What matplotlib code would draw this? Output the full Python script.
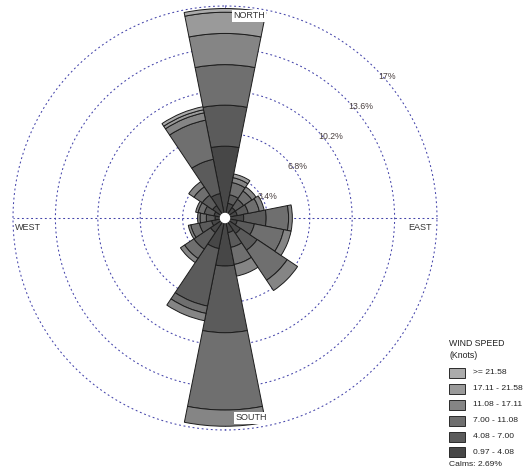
import numpy as np
import matplotlib
matplotlib.use("Agg")
import matplotlib.pyplot as plt
from matplotlib.patches import Rectangle
from matplotlib import transforms

plt.rcParams['font.family'] = ['Liberation Sans', 'DejaVu Sans']

directions = ['N', 'NNE', 'NE', 'ENE', 'E', 'ESE', 'SE', 'SSE',
              'S', 'SSW', 'SW', 'WSW', 'W', 'WNW', 'NW', 'NNW']
# frequency (%) per speed class, per direction
c_097_408 = [5.76, 1.2, 1.0, 1.0, 1.5, 1.0, 1.5, 1.2, 3.85, 2.5, 1.4, 1.1, 0.8, 0.9, 1.2, 2.0]
c_408_700 = [3.29, 0.7, 0.8, 0.9, 1.8, 1.4, 1.6, 1.2, 5.35, 4.7, 1.6, 1.0, 0.7, 0.8, 1.0, 2.8]
c_700_1108 = [3.25, 1.0, 0.8, 0.9, 1.8, 2.4, 2.9, 1.4, 6.2, 0.6, 0.9, 0.7, 0.5, 0.5, 0.8, 3.2]
c_1108_1711 = [2.50, 0.4, 0.4, 0.4, 0.3, 0.6, 1.0, 0.95, 1.3, 0.6, 0.4, 0.2, 0.2, 0.2, 0.5, 0.6]
c_1711_2158 = [1.70, 0.3, 0.0, 0.0, 0.0, 0.0, 0.0, 0.0, 0.0, 0.0, 0.0, 0.0, 0.0, 0.0, 0.0, 0.25]
c_ge_2158 = [0.30, 0.0, 0.0, 0.0, 0.0, 0.0, 0.0, 0.0, 0.0, 0.0, 0.0, 0.0, 0.0, 0.0, 0.0, 0.25]

class_labels = ['0.97 - 4.08', '4.08 - 7.00', '7.00 - 11.08',
                '11.08 - 17.11', '17.11 - 21.58', '>= 21.58']
class_colors = ['#474747', '#5b5b5b', '#6f6f6f', '#858585', '#9a9a9a', '#ababab']
ring_values = [3.4, 6.8, 10.2, 13.6, 17.0]
ring_labels = ['3.4%', '6.8%', '10.2%', '13.6%', '17%']
calms = 2.69

W, H = 523, 468
fig = plt.figure(figsize=(W / 100, H / 100), dpi=100)
fig.patch.set_facecolor('white')

cx, cy, R = 225, 218, 212
ax = fig.add_axes([(cx - R) / W, (H - cy - R) / H, 2 * R / W, 2 * R / H],
                  projection='polar')
ax.set_theta_zero_location('N')
ax.set_theta_direction(-1)
ax.set_ylim(0, 17)
ax.grid(False)
ax.set_xticks([])
ax.set_yticks([])
ax.spines['polar'].set_visible(False)
ax.patch.set_alpha(0)

ring_color = '#4444aa'
ring_ls = (0, (1.8, 2.6))
tt = np.linspace(0, 2 * np.pi, 400)
for r in ring_values:
    ax.plot(tt, [r] * len(tt), color=ring_color, lw=0.75, ls=ring_ls,
            clip_on=False, zorder=1)
for a in [0, np.pi / 2, np.pi, 3 * np.pi / 2]:
    ax.plot([a, a], [0, 17], color=ring_color, lw=0.75, ls=ring_ls,
            clip_on=False, zorder=1)

n = len(directions)
theta = np.arange(n) * 2 * np.pi / n
width = 2 * np.pi / n
classes = [c_097_408, c_408_700, c_700_1108, c_1108_1711, c_1711_2158, c_ge_2158]
bottom = np.zeros(n)
for vals, col in zip(classes, class_colors):
    vals = np.array(vals)
    mask = vals > 0
    ax.bar(theta[mask], vals[mask], width=width, bottom=bottom[mask],
           color=col, edgecolor='#1c1c1c', linewidth=0.7, zorder=3)
    bottom += vals

# calm circle
ax.bar(0, 0.42, width=2 * np.pi, bottom=0, color='white', edgecolor='none', zorder=5)

# ring labels
off = transforms.offset_copy(ax.transData, fig=fig, x=3, y=-4, units='dots')
for r, lab in zip(ring_values, ring_labels):
    ax.text(np.deg2rad(45), r, lab, transform=off, ha='left', va='top',
            fontsize=6.3, color='#4a4040', zorder=6, clip_on=False)

def fx(x):
    return x / W

def fy(y):
    return 1 - y / H

bbox_w = dict(facecolor='white', edgecolor='none', pad=1.0)
fig.text(fx(249), fy(16), 'NORTH', ha='center', va='center', fontsize=6.5,
         color='#333333', bbox=bbox_w, zorder=10)
fig.text(fx(251), fy(418), 'SOUTH', ha='center', va='center', fontsize=6.5,
         color='#333333', bbox=bbox_w, zorder=10)
fig.text(fx(15), fy(227), 'WEST', ha='left', va='center', fontsize=6.5, color='#333333')
fig.text(fx(432), fy(227), 'EAST', ha='right', va='center', fontsize=6.5, color='#333333')

# legend
fig.text(fx(449), fy(344), 'WIND SPEED', ha='left', va='center', fontsize=6.3, color='#222222')
fig.text(fx(449), fy(355.5), '(Knots)', ha='left', va='center', fontsize=6.3, color='#222222')
row_y = [373, 389, 404.5, 420.5, 436.5, 452]
for i, (lab, col) in enumerate(zip(class_labels[::-1], class_colors[::-1])):
    yc = row_y[i]
    fig.patches.append(Rectangle((fx(449), fy(yc + 5)), 16 / W, 10 / H,
                                 transform=fig.transFigure, facecolor=col,
                                 edgecolor='#2a2a2a', linewidth=0.7))
    fig.text(fx(473), fy(yc), lab, ha='left', va='center', fontsize=6.1, color='#222222')
fig.text(fx(449), fy(465), 'Calms: %.2f%%' % calms, ha='left', va='center',
         fontsize=6.1, color='#222222')

fig.savefig('out.png', dpi=100, facecolor='white')
